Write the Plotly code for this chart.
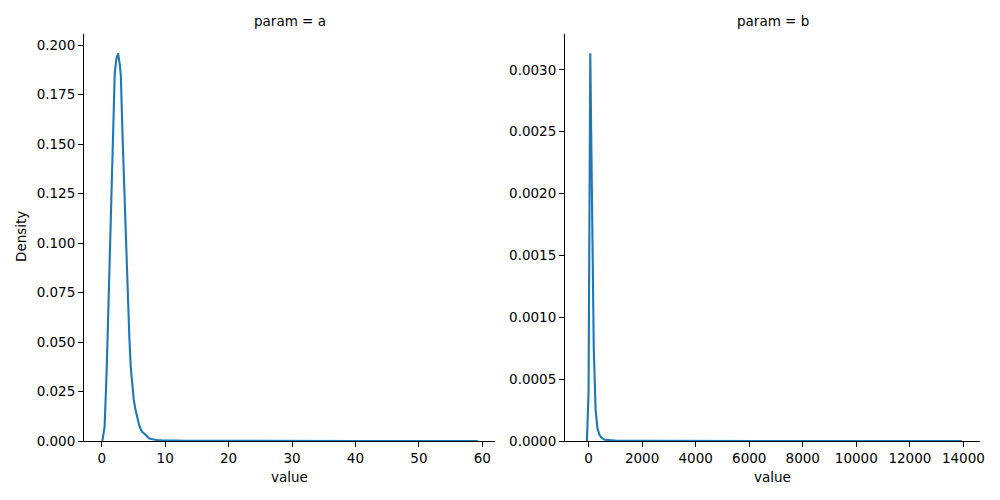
import plotly.graph_objects as go

# Panel a (param = a) KDE
a_x = [0.1, 0.45, 0.79, 1.1, 1.42, 1.73, 2.05, 2.3, 2.57, 2.85, 3.0, 3.3, 3.55, 3.78, 4.1, 4.35, 4.57, 4.8, 5.04, 5.3, 5.6, 5.9, 6.2, 6.4, 6.7, 7.0, 7.45, 7.8, 8.2, 8.8, 9.5, 10.3, 11.0, 11.8, 13.0, 16.0, 20.0, 30.0, 40.0, 50.0, 59.3]
a_y = [0.0, 0.0072, 0.037, 0.075, 0.113, 0.15, 0.186, 0.193, 0.1958, 0.19, 0.185, 0.152, 0.128, 0.1066, 0.071, 0.052, 0.0375, 0.029, 0.021, 0.016, 0.0115, 0.008, 0.0055, 0.0045, 0.0038, 0.0028, 0.0014, 0.001, 0.0007, 0.0004, 0.0003, 0.0003, 0.0005, 0.0002, 0.0001, 0.00005, 0.00003, 0.00002, 0.00001, 0.00001, 0.0]

# Panel b (param = b) KDE
b_x = [-60, 0, 64, 124, 194, 264, 334, 404, 474, 600, 800, 1000, 2000, 4000, 6000, 8000, 10000, 12000, 13940]
b_y = [0.0, 0.0004, 0.003135, 0.0021, 0.00075, 0.00025, 0.0001, 0.00005, 0.00003, 0.00001, 0.000005, 0.000003, 0.000001, 0.0, 0.0, 0.0, 0.0, 0.0, 0.0]

titles = ["param = a", "param = b"]
a_yticks = [0, 0.025, 0.05, 0.075, 0.1, 0.125, 0.15, 0.175, 0.2]
b_yticks = [0, 0.0005, 0.001, 0.0015, 0.002, 0.0025, 0.003]
a_xticks = [0, 10, 20, 30, 40, 50, 60]
b_xticks = [0, 2000, 4000, 6000, 8000, 10000, 12000, 14000]

LINE = "#1f77b4"
FONT = "DejaVu Sans"
FS = 13.5

fig = go.Figure()
fig.add_trace(go.Scatter(x=a_x, y=a_y, mode="lines", line=dict(color=LINE, width=2.1),
                         xaxis="x", yaxis="y", showlegend=False))
fig.add_trace(go.Scatter(x=b_x, y=b_y, mode="lines", line=dict(color=LINE, width=2.1),
                         xaxis="x2", yaxis="y2", showlegend=False))

ydom = [1 - 441 / 500, 1 - 34 / 500]
axis_common = dict(showgrid=False, zeroline=False, showline=True, linecolor="black", linewidth=1,
                   ticks="outside", ticklen=5, tickwidth=1, tickcolor="black", automargin=False,
                   tickfont=dict(family=FONT, size=FS, color="black"))

fig.update_layout(
    width=1000, height=500,
    margin=dict(l=0, r=0, t=0, b=0),
    paper_bgcolor="white", plot_bgcolor="white",
    font=dict(family=FONT, size=FS, color="black"),
    xaxis=dict(domain=[84 / 1000, 495 / 1000], range=[-2.8, 62.0], tickvals=a_xticks,
               anchor="y", **axis_common),
    yaxis=dict(domain=ydom, range=[0, 0.2056], tickvals=a_yticks, tickformat=".3f",
               anchor="x", **axis_common),
    xaxis2=dict(domain=[565 / 1000, 980 / 1000], range=[-880, 14620], tickvals=b_xticks,
                tickformat="d", anchor="y2", **axis_common),
    yaxis2=dict(domain=ydom, range=[0, 0.00329], tickvals=b_yticks, tickformat=".4f",
                anchor="x2", **axis_common),
)

ann = []
for cx, t in [((84 + 495) / 2000, titles[0]), ((565 + 980) / 2000, titles[1])]:
    ann.append(dict(text=t, x=cx, y=1 - 21 / 500, xref="paper", yref="paper",
                    showarrow=False, xanchor="center", yanchor="middle",
                    font=dict(family=FONT, size=FS, color="black")))
    ann.append(dict(text="value", x=cx, y=1 - 477 / 500, xref="paper", yref="paper",
                    showarrow=False, xanchor="center", yanchor="middle",
                    font=dict(family=FONT, size=FS, color="black")))
ann.append(dict(text="Density", x=21 / 1000, y=1 - 237 / 500, xref="paper", yref="paper",
                showarrow=False, textangle=-90, xanchor="center", yanchor="middle",
                font=dict(family=FONT, size=FS, color="black")))
fig.update_layout(annotations=ann)

fig.write_html("out.html", config={"displayModeBar": False},
               post_script="document.body.style.margin='0px';document.body.style.padding='0px';")
